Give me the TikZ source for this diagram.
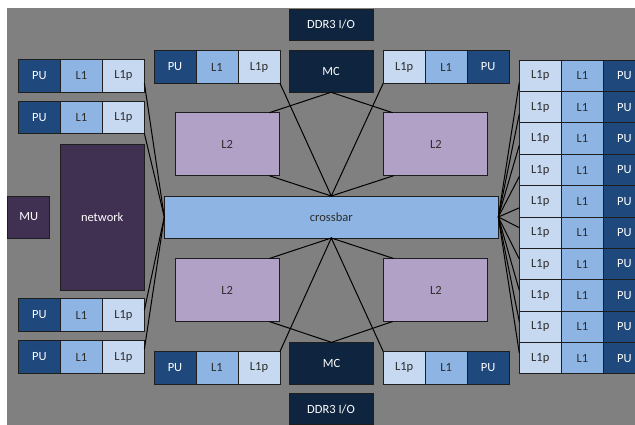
\documentclass[tikz,border=0pt]{standalone}
\usepackage{fontspec}
\setmainfont{Carlito}
\usetikzlibrary{positioning}
\definecolor{diebg}{RGB}{128,128,128}
\definecolor{pucol}{RGB}{31,73,125}
\definecolor{lonecol}{RGB}{141,180,226}
\definecolor{lonepcol}{RGB}{198,217,241}
\definecolor{mccol}{RGB}{15,36,62}
\definecolor{ltwocol}{RGB}{178,161,199}
\definecolor{netcol}{RGB}{64,49,82}
\definecolor{edgecol}{RGB}{30,30,30}
\definecolor{txtcol}{RGB}{45,45,45}

\begin{document}
\begin{tikzpicture}[
    x=1pt, y=-1pt,
    every node/.style={font=\fontsize{12.5}{14}\selectfont},
    blk/.style={rectangle, draw=edgecol, line width=1pt, inner sep=0pt, outer sep=0pt, text=txtcol},
    cell/.style={blk, minimum width=42pt, minimum height=32.6pt},
    pu/.style={cell, fill=pucol, text=white},
    lone/.style={cell, fill=lonecol},
    lonep/.style={cell, fill=lonepcol},
    ltwo/.style={blk, fill=ltwocol, minimum width=104.3pt, minimum height=63pt},
    mcbox/.style={blk, fill=mccol, text=white, minimum width=84pt},
    netbox/.style={blk, fill=netcol, text=white},
    wire/.style={line width=1pt, black}
]
\clip (0,0) rectangle (635,424);
\fill[diebg] (7,8) rectangle (640,430);

% left cores
\node[pu] (pua) at (39.4,75.8) {PU};
\node[lone, right=0pt of pua] (l1a) {L1};
\node[lonep, right=0pt of l1a] (lpa) {L1p};
\node[pu] (pub) at (39.4,117.3) {PU};
\node[lone, right=0pt of pub] (l1b) {L1};
\node[lonep, right=0pt of l1b] (lpb) {L1p};
\node[pu] (puc) at (39.4,315) {PU};
\node[lone, right=0pt of puc] (l1c) {L1};
\node[lonep, right=0pt of l1c] (lpc) {L1p};
\node[pu] (pud) at (39.4,357) {PU};
\node[lone, right=0pt of pud] (l1d) {L1};
\node[lonep, right=0pt of l1d] (lpd) {L1p};

% middle cores
\node[pu] (pue) at (175,67) {PU};
\node[lone, right=0pt of pue] (l1e) {L1};
\node[lonep, right=0pt of l1e] (lpe) {L1p};
\node[lonep] (lpf) at (404.2,67) {L1p};
\node[lone, right=0pt of lpf] (l1f) {L1};
\node[pu, right=0pt of l1f] (puf) {PU};
\node[pu] (pug) at (175,367.7) {PU};
\node[lone, right=0pt of pug] (l1g) {L1};
\node[lonep, right=0pt of l1g] (lpg) {L1p};
\node[lonep] (lph) at (404.2,367.7) {L1p};
\node[lone, right=0pt of lph] (l1h) {L1};
\node[pu, right=0pt of l1h] (puh) {PU};

% right column of cores
\foreach \i in {1,...,10}{
  \node[lonep, minimum height=31.34pt] (rp\i) at (540.3,44.63+31.34*\i) {L1p};
  \node[lone, minimum height=31.34pt, right=0pt of rp\i] (rl\i) {L1};
  \node[pu, minimum height=31.34pt, right=0pt of rl\i] (ru\i) {PU};
}

% L2 slices, crossbar, memory
\node[ltwo] (ltwoa) at (227.2,144.2) {L2};
\node[ltwo] (ltwob) at (435.8,144.2) {L2};
\node[ltwo] (ltwoc) at (227.2,290) {L2};
\node[ltwo] (ltwod) at (435.8,290) {L2};
\node[blk, fill=lonecol, minimum width=334pt, minimum height=42pt] (xbar) at (331.3,217) {crossbar};
\node[netbox, minimum width=83.7pt, minimum height=146.3pt] (net) at (102.2,217.2) {network};
\node[netbox, minimum width=42.3pt, minimum height=42pt] (mu) at (28.8,217) {MU};
\node[mcbox, minimum height=31pt] (ddrtop) at (331,24.5) {DDR3 I/O};
\node[mcbox, minimum height=41.6pt] (mctop) at (331,71.5) {MC};
\node[mcbox, minimum height=41.7pt] (mcbot) at (331.5,363.2) {MC};
\node[mcbox, minimum height=31pt] (ddrbot) at (331,409) {DDR3 I/O};

% links
\draw[wire] ([yshift=-7.5pt]lpa.east) -- (xbar.west);
\draw[wire] (lpb.south east) -- (xbar.west);
\draw[wire] ([yshift=5pt]lpc.east) -- (xbar.west);
\draw[wire] ([yshift=8pt]lpd.east) -- (xbar.west);
\draw[wire] (lpe.south east) -- (xbar.north) -- (lpf.south west);
\draw[wire] ([xshift=-10pt]ltwoa.south east) -- (xbar.north) -- ([xshift=10pt]ltwob.south west);
\draw[wire] ([xshift=-10pt]ltwoa.north east) -- (mctop.south) -- ([xshift=9pt]ltwob.north west);
\draw[wire] (lpg.north east) -- (xbar.south) -- (lph.north west);
\draw[wire] ([xshift=-10pt]ltwoc.north east) -- (xbar.south) -- ([xshift=10pt]ltwod.north west);
\draw[wire] ([xshift=-10pt]ltwoc.south east) -- (mcbot.north) -- ([xshift=9pt]ltwod.south west);
\foreach \i in {1,...,5}
  \draw[wire] (xbar.east) -- ([yshift=-6.5pt]rp\i.west);
\foreach \i in {6,...,10}
  \draw[wire] (xbar.east) -- ([yshift=5pt]rp\i.west);
\end{tikzpicture}
\end{document}
